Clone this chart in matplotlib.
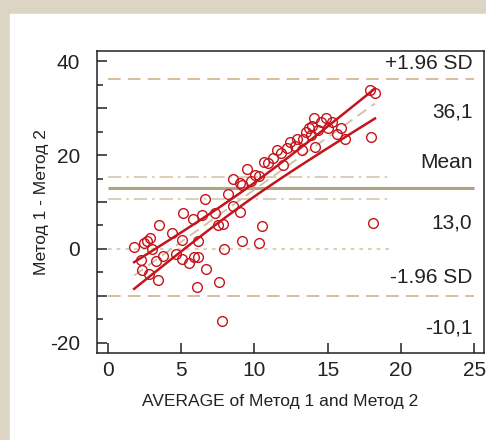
import numpy as np
import matplotlib
matplotlib.use('Agg')
from matplotlib import pyplot as plt
from matplotlib.ticker import MultipleLocator, FuncFormatter

# average of the two methods (x) and difference Метод 1 - Метод 2 (y)
avg_x = [1.8, 2.25, 2.36, 2.47, 2.66, 2.88, 3.04, 2.82, 3.27, 3.5, 3.45, 3.79,
         4.4, 4.63, 5.04, 5.09, 5.16, 5.57, 5.81, 5.85, 6.15, 6.16, 6.07, 6.43,
         6.68, 6.66, 7.31, 7.54, 7.88, 7.93, 7.59, 7.77, 8.18, 8.52, 8.56, 9.04,
         9.13, 9.0, 9.18, 9.5, 9.77, 10.06, 10.3, 10.33, 10.54, 10.68, 10.9,
         11.29, 11.52, 11.83, 11.97, 12.24, 12.43, 12.77, 12.88, 13.22, 13.34,
         13.5, 13.74, 13.84, 13.95, 14.08, 14.13, 14.36, 14.52, 14.88, 15.04,
         15.27, 15.65, 15.9, 16.18, 17.88, 18.22, 17.93, 18.1]
diff_y = [0.5, -2.3, -4.5, 1.2, 1.6, 2.3, 0.1, -5.3, -2.6, 5.0, -6.7, -1.5,
          3.3, -1.1, 1.9, -2.1, 7.7, -2.9, 6.4, -1.8, -1.6, 1.8, -8.0, 7.2,
          -4.3, 10.7, 7.6, 5.1, 5.4, 0.1, -7.1, -15.3, 11.6, 9.1, 14.8, 7.9,
          1.8, 14.1, 13.7, 17.0, 14.4, 15.7, 15.5, 1.3, 4.9, 18.6, 18.3,
          19.3, 21.1, 20.4, 17.9, 21.4, 22.8, 22.0, 23.3, 21.1, 23.5,
          24.8, 25.7, 24.3, 26.2, 27.8, 21.8, 25.3, 27.0, 27.8, 25.7,
          27.0, 24.5, 25.7, 23.5, 33.9, 33.2, 23.9, 5.5]

mean_diff = 13.0
upper_loa = 36.1
lower_loa = -10.1
mean_ci = [10.7, 15.3]
limit_labels = ['+1.96 SD', '36,1', 'Mean', '13,0', '-1.96 SD', '-10,1']
label_y = [39.4, 29.1, 18.5, 5.5, -6.0, -16.9]

x = np.array(avg_x)
y = np.array(diff_y)

# regression of difference on average with 95% confidence band
slope, intercept = np.polyfit(x, y, 1)
xs = np.linspace(x.min(), x.max(), 100)
fit = intercept + slope * xs
resid = y - (intercept + slope * x)
n = len(x)
s = np.sqrt(np.sum(resid ** 2) / (n - 2))
se = s * np.sqrt(1.0 / n + (xs - x.mean()) ** 2 / np.sum((x - x.mean()) ** 2))
band = 1.99 * se

plt.rcParams['font.family'] = ['Liberation Sans', 'DejaVu Sans']

fig = plt.figure(figsize=(4.86, 4.40), dpi=100)
fig.patch.set_facecolor('#ddd5c3')
fig.patches.append(plt.Rectangle((10 / 486, 0), 1, 1 - 14 / 440,
                                 transform=fig.transFigure, color='white', zorder=-10))
ax = fig.add_axes([97 / 486, 87 / 440, 387 / 486, 302 / 440])
ax.set_facecolor('none')

tan = '#d3b892'
red = '#c4141c'
line_end = 19.25

ax.plot([0, 25], [upper_loa, upper_loa], color=tan, lw=1.3, dashes=(7, 4))
ax.plot([0, 25], [lower_loa, lower_loa], color=tan, lw=1.3, dashes=(7, 4))
ax.plot([0, 25], [mean_diff, mean_diff], color='#b3a283', lw=2.2, solid_capstyle='butt')
for v in mean_ci:
    ax.plot([0, line_end], [v, v], color='#d6c7ab', lw=1.2, dashes=(8, 3, 1.5, 3))
ax.plot([0, line_end], [0, 0], color='#d8c6a6', lw=1.2, dashes=(2.2, 3))

ax.plot(xs, fit, color='#d0c0a4', lw=1.3, dashes=(6, 3.5))
ax.plot(xs, fit + band, color=red, lw=1.8)
ax.plot(xs, fit - band, color=red, lw=1.8)
ax.plot(x, y, 'o', ms=7, mfc='none', mec=red, mew=1.0)

for txt, ly in zip(limit_labels, label_y):
    ax.text(24.85, ly, txt, ha='right', va='center', fontsize=15, color='#222222')

ax.set_xlim(-0.73, 25.65)
ax.set_ylim(-22.13, 42.13)
ax.xaxis.set_major_locator(MultipleLocator(5))
ax.yaxis.set_major_locator(MultipleLocator(10))
ax.yaxis.set_minor_locator(MultipleLocator(5))
ax.yaxis.set_major_formatter(FuncFormatter(lambda v, p: '%d' % v if round(v) % 20 == 0 else ''))
ax.tick_params(direction='in', length=7.5, width=1.1, labelsize=15, colors='#222222')
ax.tick_params(axis='y', which='minor', direction='in', length=4.5, width=1.1, colors='#222222')
ax.tick_params(axis='y', pad=12)
ax.tick_params(axis='x', pad=6)
for sp in ax.spines.values():
    sp.set_linewidth(1.1)
    sp.set_color('#222222')

ax.set_xlabel('AVERAGE of Метод 1 and Метод 2', fontsize=12.5, color='#222222')
ax.set_ylabel('Метод 1 - Метод 2', fontsize=12.5, color='#222222')
ax.xaxis.set_label_coords(0.473, -0.135)
ax.yaxis.set_label_coords(-0.125, 0.5)

plt.savefig('out.png', dpi=100, facecolor=fig.get_facecolor())
plt.close()
